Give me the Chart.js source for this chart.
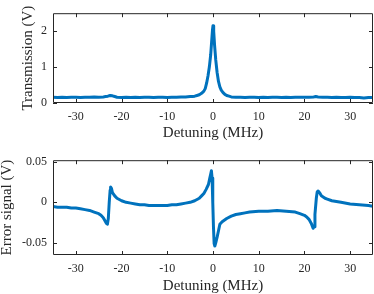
<!DOCTYPE html>
<html>
<head>
<meta charset="utf-8">
<script src="https://cdn.jsdelivr.net/npm/chart.js@4"></script>
<style>
html, body { margin: 0; padding: 0; background: #fff; }
#wrap { position: relative; width: 374px; height: 294px; }
.panel { position: absolute; left: 0; width: 374px; height: 147px; }
</style>
</head>
<body>
<div id="wrap">
  <div class="panel" style="top:0"><canvas id="top" width="374" height="147"></canvas></div>
  <div class="panel" style="top:147px"><canvas id="bottom" width="374" height="147"></canvas></div>
</div>
<script>
/* ===============================
   DATA
================================= */
const xTicks = [-30, -20, -10, 0, 10, 20, 30];
const transTicks = [0, 1, 2];
const errTicks = [-0.05, 0, 0.05];

// transmission trace, detuning (MHz) / volts
const transX = [-35, -34, -33, -32, -31, -30, -29, -28, -27, -26, -25, -24, -23.5, -23, -22.5, -22, -21.5, -21, -20,
  -19, -18, -17, -16, -15, -14, -13, -12, -11, -10, -9, -8, -7, -6, -5, -4.5, -4, -3.5, -3, -2.5, -2, -1.7,
  -1.4, -1.1, -0.8, -0.5, -0.3, -0.1, 0, 0.15, 0.35, 0.6, 0.9, 1.2, 1.5, 1.8, 2.2, 2.6, 3, 3.5, 4, 5, 6, 7,
  8, 9, 10, 11, 12, 13, 14, 15, 16, 17, 18, 19, 20, 21, 22, 22.5, 23, 24, 25, 26, 27, 28, 29, 30, 31, 32,
  33, 34, 35];
const transY = [0.16, 0.15, 0.16, 0.15, 0.16, 0.16, 0.15, 0.16, 0.16, 0.17, 0.16, 0.17, 0.18, 0.19, 0.21, 0.2, 0.18, 0.16, 0.15,
  0.16, 0.15, 0.16, 0.15, 0.16, 0.16, 0.15, 0.16, 0.16, 0.15, 0.16, 0.16, 0.17, 0.17, 0.18, 0.18, 0.19, 0.21, 0.23, 0.27, 0.33, 0.4,
  0.55, 0.75, 1.0, 1.35, 1.7, 2.05, 2.15, 2.0, 1.6, 1.2, 0.85, 0.6, 0.45, 0.36, 0.29, 0.24, 0.21, 0.19, 0.17, 0.16, 0.16, 0.15,
  0.16, 0.16, 0.15, 0.16, 0.15, 0.16, 0.16, 0.15, 0.16, 0.15, 0.16, 0.16, 0.16, 0.16, 0.17, 0.18, 0.17, 0.16, 0.16, 0.15, 0.16, 0.15, 0.15, 0.16, 0.15, 0.15,
  0.14, 0.15, 0.15];

// error signal trace, detuning (MHz) / volts
const errX = [-35, -34, -33, -32, -31, -30, -29, -28, -27, -26, -25, -24.5, -24, -23.6, -23.3, -23.1, -22.9, -22.7, -22.5,
  -22.4, -22.2, -22, -21.5, -21, -20, -19, -18, -17, -16, -15, -14, -13, -12, -11, -10, -9, -8, -7, -6, -5, -4, -3,
  -2.5, -2, -1.5, -1, -0.7, -0.5, -0.35, -0.2, -0.05, 0.1, 0.25, 0.4, 0.6, 0.9, 1.2, 1.5, 2, 3, 4, 5, 6, 7, 8,
  10, 12, 14, 16, 18, 19, 20, 20.5, 21, 21.5, 21.9, 22.1, 22.3, 22.6, 22.8, 23, 23.3, 23.7, 24.5, 25, 26, 28, 30,
  32, 34, 35];
const errY = [-0.005, -0.006, -0.006, -0.006, -0.007, -0.007, -0.008, -0.009, -0.010, -0.012, -0.014, -0.016, -0.019, -0.023, -0.026, -0.027, -0.02, 0.0, 0.015,
  0.019, 0.017, 0.012, 0.008, 0.005, 0.002, 0.0, -0.001, -0.002, -0.003, -0.003, -0.004, -0.004, -0.004, -0.004, -0.004, -0.003, -0.003, -0.002, -0.001, 0.0, 0.002, 0.005,
  0.008, 0.011, 0.016, 0.022, 0.03, 0.035, 0.039, 0.03, 0.0, -0.03, -0.051, -0.054, -0.05, -0.043, -0.035, -0.027, -0.024, -0.02, -0.017, -0.015, -0.014, -0.013, -0.012,
  -0.011, -0.011, -0.010, -0.011, -0.012, -0.014, -0.016, -0.018, -0.021, -0.026, -0.032, -0.03, -0.015, 0.005, 0.013, 0.014, 0.012, 0.008, 0.005, 0.004, 0.002, 0.0, -0.002,
  -0.003, -0.004, -0.005];

/* ===============================
   STYLE
================================= */
const ink = "#262626";
const blue = "#0072BD";
const tickFont = { family: "Liberation Serif", size: 12 };
const titleFont = { family: "Liberation Serif", size: 15, lineHeight: 1 };

function pts(xs, ys) {
    return xs.map((v, i) => ({ x: v, y: ys[i] }));
}

// box round the axes with ticks pointing inward (all four sides)
const frame = {
    id: "frame",
    afterDatasetsDraw(chart) {
        const { ctx, chartArea: a, scales: { x, y } } = chart;
        ctx.save();
        ctx.strokeStyle = ink;
        ctx.lineWidth = 1;
        ctx.beginPath();
        ctx.rect(a.left + 0.5, a.top + 0.5, a.right - a.left - 1, a.bottom - a.top - 1);
        x.ticks.forEach(t => {
            const px = Math.round(x.getPixelForValue(t.value)) + 0.5;
            ctx.moveTo(px, a.bottom); ctx.lineTo(px, a.bottom - 4);
            ctx.moveTo(px, a.top); ctx.lineTo(px, a.top + 4);
        });
        y.ticks.forEach(t => {
            const py = Math.round(y.getPixelForValue(t.value)) + 0.5;
            ctx.moveTo(a.left, py); ctx.lineTo(a.left + 4, py);
            ctx.moveTo(a.right, py); ctx.lineTo(a.right - 4, py);
        });
        ctx.stroke();
        ctx.restore();
    }
};

function makeChart(id, cfg) {
    return new Chart(document.getElementById(id), {
        type: "line",
        data: {
            datasets: [{
                data: pts(cfg.xs, cfg.ys),
                borderColor: blue,
                borderWidth: 3,
                borderJoinStyle: "round",
                borderCapStyle: "round",
                pointRadius: 0,
                tension: 0,
                fill: false
            }]
        },
        options: {
            responsive: false,
            animation: false,
            events: [],
            layout: { padding: { top: cfg.padTop, right: 1, left: 0, bottom: 0 } },
            plugins: { legend: { display: false }, tooltip: { enabled: false } },
            scales: {
                x: {
                    type: "linear", min: -35, max: 35,
                    afterBuildTicks: s => { s.ticks = xTicks.map(v => ({ value: v })); },
                    afterFit: s => { s.height = cfg.xHeight; },
                    grid: { display: false, drawTicks: false },
                    border: { display: false },
                    ticks: { color: ink, font: tickFont, padding: 7, maxRotation: 0, autoSkip: false,
                             callback: v => String(v) },
                    title: { display: true, text: "Detuning (MHz)", color: ink, font: titleFont,
                             padding: { top: 0, bottom: cfg.xTitlePad } }
                },
                y: {
                    type: "linear", min: cfg.yMin, max: cfg.yMax,
                    afterBuildTicks: s => { s.ticks = cfg.yTicks.map(v => ({ value: v })); },
                    afterFit: s => { s.width = 53; },
                    grid: { display: false, drawTicks: false },
                    border: { display: false },
                    ticks: { color: ink, font: tickFont, padding: 6, autoSkip: false,
                             callback: v => String(v) },
                    title: { display: true, text: cfg.yTitle, color: ink, font: titleFont,
                             padding: { top: cfg.yTitlePad, bottom: 0 } }
                }
            }
        },
        plugins: [frame]
    });
}

makeChart("top", {
    xs: transX, ys: transY,
    yMin: 0, yMax: 2.5, yTicks: transTicks,
    yTitle: "Transmission (V)",
    padTop: 6, xHeight: 44, xTitlePad: 6.5, yTitlePad: 20.5
});

makeChart("bottom", {
    xs: errX, ys: errY,
    yMin: -0.065, yMax: 0.052, yTicks: errTicks,
    yTitle: "Error signal (V)",
    padTop: 13, xHeight: 39, xTitlePad: 0, yTitlePad: 0
});
</script>
</body>
</html>
